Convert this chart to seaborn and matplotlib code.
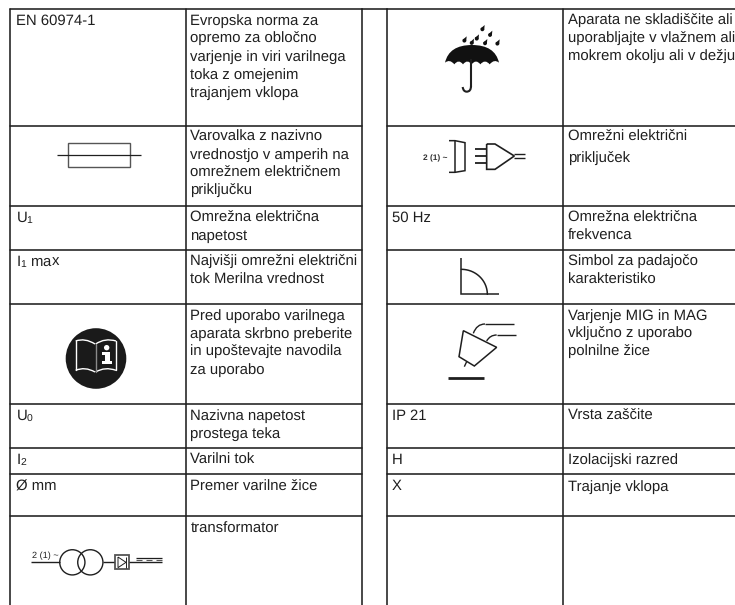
import matplotlib
matplotlib.use('Agg')
import matplotlib.pyplot as plt
from matplotlib.patches import Circle, PathPatch, Rectangle
from matplotlib.path import Path
import numpy as np
import pandas as pd
import seaborn as sns

# cell texts, one list per table column
col1_labels = ['EN 60974-1', '', 'U$_1$', 'I$_1$ max', '', 'U$_0$', 'I$_2$', 'Ø mm', '']
col2_labels = [
    ['Evropska norma za', 'opremo za obločno', 'varjenje in viri varilnega', 'toka z omejenim', 'trajanjem vklopa'],
    ['Varovalka z nazivno', 'vrednostjo v amperih na', 'omrežnem električnem', 'priključku'],
    ['Omrežna električna', 'napetost'],
    ['Najvišji omrežni električni', 'tok Merilna vrednost'],
    ['Pred uporabo varilnega', 'aparata skrbno preberite', 'in upoštevajte navodila', 'za uporabo'],
    ['Nazivna napetost', 'prostega teka'],
    ['Varilni tok'],
    ['Premer varilne žice'],
    ['transformator'],
]
col3_labels = ['', '', '50 Hz', '', '', 'IP 21', 'H', 'X', '']
col4_labels = [
    ['Aparata ne skladiščite ali', 'uporabljajte v vlažnem ali', 'mokrem okolju ali v dežju'],
    ['Omrežni električni', 'priključek'],
    ['Omrežna električna', 'frekvenca'],
    ['Simbol za padajočo', 'karakteristiko'],
    ['Varjenje MIG in MAG', 'vključno z uporabo', 'polnilne žice'],
    ['Vrsta zaščite'],
    ['Izolacijski razred'],
    ['Trajanje vklopa'],
    [],
]

# layout in image pixels
row_edges = [9, 126, 206, 250, 304, 404, 448, 474, 516]
col_edges = [10, 186, 362, 387, 563]
right_edge = 735
bottom_edge = 605
col_text_x = [16, 190.5, 392, 568]
row_baselines = [24.5, 140.5, 221.5, 266, 319.5, 419.5, 463.5, 490.5, 532.5]
plug_row_baselines = [141, 163]
line_step = 18
ink = '#1f1f1f'

sns.set_theme(style='white')
plt.rcParams['font.family'] = ['Liberation Sans', 'DejaVu Sans']
plt.rcParams['mathtext.default'] = 'regular'
plt.rcParams['text.hinting'] = 'no_hinting'

fig = plt.figure(figsize=(7.35, 6.05), dpi=100)
ax = fig.add_axes([0, 0, 1, 1])

# table rules
rules = []
n = 0
for y in row_edges:
    for x0, x1 in [(col_edges[0], col_edges[2]), (col_edges[3], right_edge)]:
        rules += [(n, x0, y), (n, x1, y)]
        n += 1
rules += [(n, col_edges[2], row_edges[0]), (n, col_edges[3], row_edges[0])]
n += 1
for x in col_edges:
    rules += [(n, x, row_edges[0]), (n, x, bottom_edge)]
    n += 1
rules_df = pd.DataFrame(rules, columns=['rule', 'x', 'y'])
sns.lineplot(data=rules_df, x='x', y='y', units='rule', estimator=None, sort=False,
             color=ink, linewidth=1.15, legend=False, ax=ax)


def put_lines(x, y, lines, step=line_step):
    for i, line in enumerate(lines):
        ax.text(x, y + i * step, line, fontsize=10.7, color=ink, va='baseline', ha='left')


for i in range(len(row_baselines)):
    put_lines(col_text_x[0], row_baselines[i], [col1_labels[i]] if col1_labels[i] else [])
    put_lines(col_text_x[1], row_baselines[i], col2_labels[i])
    put_lines(col_text_x[2], row_baselines[i], [col3_labels[i]] if col3_labels[i] else [])
    if i == 1:
        put_lines(col_text_x[3], plug_row_baselines[0], col4_labels[i], plug_row_baselines[1] - plug_row_baselines[0])
    else:
        put_lines(col_text_x[3], row_baselines[i], col4_labels[i])


def stroke(ox, oy, pts, lw=1.0, color=ink, scale=3.0):
    pts = np.array(pts, dtype=float)
    ax.plot(ox + pts[:, 0] / scale, oy + pts[:, 1] / scale, color=color, lw=lw,
            solid_capstyle='butt', solid_joinstyle='miter')


def curve(ox, oy, verts, lw=1.0, scale=3.0):
    v = [(ox + a / scale, oy + b / scale) for a, b in verts]
    codes = [Path.MOVETO] + [Path.CURVE3] * (len(v) - 1)
    ax.add_patch(PathPatch(Path(v, codes), fc='none', ec=ink, lw=lw))


# fuse
ax.add_patch(Rectangle((68, 143), 62, 24, fc='none', ec='#555555', lw=1.0))
stroke(0, 0, [(57, 155), (141, 155)], lw=0.9, scale=1)

# info book
ax.add_patch(Circle((96, 358.5), 30.3, fc='#1a1a1a', ec='none', zorder=3))
for a, b in [([(47, 57), (75, 47), (105, 66)], [(168, 57), (135, 47), (107, 66)]),
             ([(47, 145), (75, 133), (105, 150)], [(168, 145), (135, 133), (107, 150)])]:
    for part in (a, b):
        v = [(60 + p / 3, 322 + q / 3) for p, q in part]
        ax.add_patch(PathPatch(Path(v, [Path.MOVETO, Path.CURVE3, Path.CURVE3]), fc='none', ec='white', lw=1.0, zorder=4))
ax.plot([60 + 47 / 3, 60 + 47 / 3], [322 + 57 / 3, 322 + 145 / 3], color='white', lw=1.0, zorder=4)
ax.plot([60 + 168 / 3, 60 + 168 / 3], [322 + 57 / 3, 322 + 145 / 3], color='white', lw=1.0, zorder=4)
ax.plot([60 + 107 / 3, 60 + 107 / 3], [322 + 66 / 3, 322 + 150 / 3], color='#8a8a8a', lw=1.0, zorder=4)
ax.add_patch(Circle((60 + 140 / 3, 322 + 77 / 3), 2.7, fc='white', ec='none', zorder=4))
i_glyph = [(127, 90), (150, 90), (150, 117), (156, 117), (156, 126), (127, 126), (127, 117), (134, 117), (134, 98), (127, 98)]
ax.fill([60 + p / 3 for p, q in i_glyph], [322 + q / 3 for p, q in i_glyph], color='white', lw=0, zorder=4)

# transformer and rectifier
tx, ty = 20, 535
stroke(tx, ty, [(33, 82), (120, 82)], lw=1.0)
ax.add_patch(Circle((tx + 157 / 3, ty + 82 / 3), 12.6, fc='none', ec=ink, lw=1.0))
ax.add_patch(Circle((tx + 211 / 3, ty + 82 / 3), 12.6, fc='none', ec=ink, lw=1.0))
stroke(tx, ty, [(250, 82), (283, 82)], lw=1.0)
ax.add_patch(Rectangle((tx + 284 / 3, ty + 61 / 3), 43 / 3, 42 / 3, fc='none', ec='#555555', lw=1.3))
stroke(tx, ty, [(294, 66), (294, 98), (318, 82), (294, 66)], lw=0.7)
stroke(tx, ty, [(318, 66), (318, 98)], lw=0.7)
stroke(tx, ty, [(327, 82), (425, 82)], lw=1.0)
stroke(tx, ty, [(347, 68), (425, 68)], lw=0.9)
for x0 in [347, 377, 407]:
    stroke(tx, ty, [(x0, 74), (x0 + 20, 74)], lw=0.8, color='#555555')
ax.text(tx + 35 / 3, ty + 68 / 3, '2 (1) ~', fontsize=6.6, color=ink, va='baseline', ha='left')

# umbrella
ux, uy = 435, 20
cusps = [30, 58, 84, 110, 136, 164, 192]
verts = [(30, 128), (42, 75), (111, 75), (180, 75), (192, 128)]
codes = [Path.MOVETO, Path.CURVE3, Path.CURVE3, Path.CURVE3, Path.CURVE3]
for a, b in zip(cusps[::-1][:-1], cusps[::-1][1:]):
    verts += [((a + b) / 2, 116), (b, 133 if b != 30 else 128)]
    codes += [Path.CURVE3, Path.CURVE3]
verts = [(ux + a / 3, uy + b / 3) for a, b in verts]
ax.add_patch(PathPatch(Path(verts, codes), fc='#111111', ec='none'))
stroke(ux, uy, [(108, 118), (108, 200)], lw=1.5)
curve(ux, uy, [(108, 198), (108, 215), (95, 215), (85, 215), (83, 201)], lw=1.5)
drops = [(88, 62), (125, 56), (142, 28), (150, 70), (165, 45), (187, 71), (110, 69)]
for a, b in drops:
    ax.add_patch(Circle((ux + a / 3, uy + b / 3), 1.9, fc='#111111', ec='none'))
    d = [(a + 7, b - 13), (a + 5.5, b + 2), (a - 5.5, b - 2)]
    ax.fill([ux + p / 3 for p, q in d], [uy + q / 3 for p, q in d], color='#111111', lw=0)

# plug and socket
px_, py_ = 420, 130
stroke(px_, py_, [(87, 32), (105, 32), (135, 38), (135, 122), (105, 127), (87, 127)], lw=1.1)
stroke(px_, py_, [(105, 32), (105, 127)], lw=1.1)
for y in [58, 78, 100]:
    stroke(px_, py_, [(165, y), (200, y)], lw=1.3)
stroke(px_, py_, [(200, 42), (225, 42), (283, 78), (225, 118), (200, 118), (200, 42)], lw=1.2)
stroke(px_, py_, [(283, 72), (315, 72)], lw=1.0)
stroke(px_, py_, [(283, 85), (315, 85)], lw=1.0)
ax.text(px_ + 8 / 3, py_ + 92 / 3, '2 (1) ~', fontsize=6.0, fontweight='bold', color='#333333', va='baseline', ha='left')

# drooping characteristic
dx, dy = 368, 0
stroke(dx, dy, [(280, 775), (280, 883), (392, 883)], lw=1.1)
t = np.linspace(0, np.pi / 2, 40)
ax.plot(dx + (280 + 78 * np.sin(t)) / 3, dy + (883 - 75 * np.cos(t)) / 3, color=ink, lw=1.1)

# MIG torch
gx, gy = 445, 315
stroke(gx, gy, [(55, 47), (155, 97), (88, 153), (42, 125), (55, 47)], lw=1.1)
stroke(gx, gy, [(65, 140), (58, 155)], lw=1.0)
curve(gx, gy, [(85, 55), (95, 27), (120, 27)], lw=1.0)
stroke(gx, gy, [(120, 27), (208, 27)], lw=1.0)
curve(gx, gy, [(125, 78), (135, 60), (155, 60)], lw=1.0)
stroke(gx, gy, [(155, 60), (212, 60)], lw=1.0)
stroke(gx, gy, [(8, 188), (118, 188)], lw=2.0)

ax.set_xlim(0, right_edge)
ax.set_ylim(bottom_edge, 0)
ax.set_xlabel('')
ax.set_ylabel('')
ax.axis('off')
fig.savefig('out.png', dpi=100, facecolor='white')
plt.close('all')
